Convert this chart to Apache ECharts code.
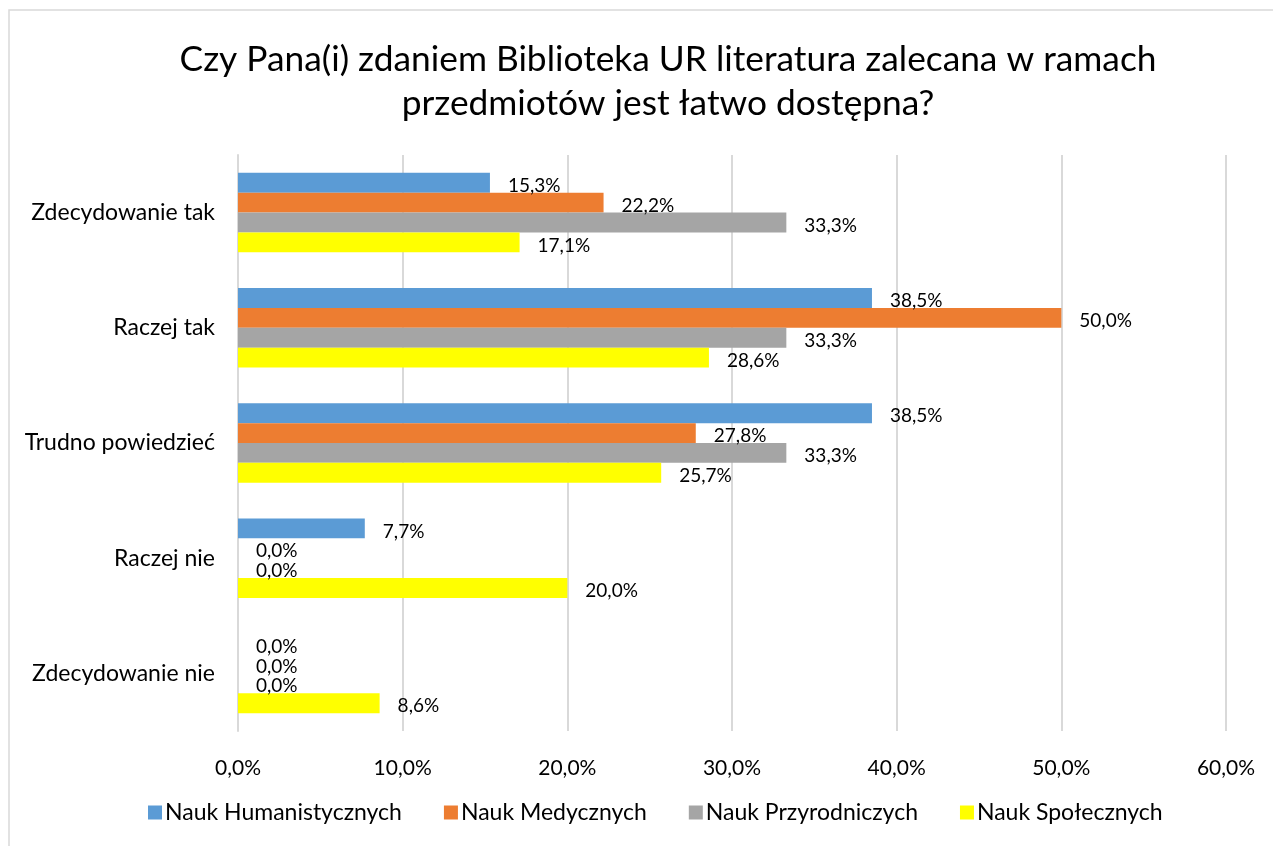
<!DOCTYPE html>
<html>
<head>
<meta charset="utf-8">
<script src="https://cdn.jsdelivr.net/npm/echarts@6/dist/echarts.min.js"></script>
<style>
  html, body { margin: 0; padding: 0; background: #fff; }
  #chart { width: 1273px; height: 846px; }
</style>
</head>
<body>
<div id="chart"></div>
<script>
var categories = ['Zdecydowanie tak', 'Raczej tak', 'Trudno powiedzieć', 'Raczej nie', 'Zdecydowanie nie'];
var seriesNames = ['Nauk Humanistycznych', 'Nauk Medycznych', 'Nauk Przyrodniczych', 'Nauk Społecznych'];
var humanistyczne = [15.3, 38.5, 38.5, 7.7, 0.0];
var medyczne = [22.2, 50.0, 27.8, 0.0, 0.0];
var przyrodnicze = [33.3, 33.3, 33.3, 0.0, 0.0];
var spoleczne = [17.1, 28.6, 25.7, 20.0, 8.6];
var colors = ['#5B9BD5', '#ED7D31', '#A5A5A5', '#FFFF00'];

var FONT = 'Lato';

function pct(v) {
  return v.toFixed(1).replace('.', ',') + '%';
}

var chart = echarts.init(document.getElementById('chart'), null, { renderer: 'canvas' });

var allData = [humanistyczne, medyczne, przyrodnicze, spoleczne];

var option = {
  color: colors,
  animation: false,
  textStyle: { fontFamily: FONT, color: '#000' },
  graphic: [{
    type: 'rect',
    shape: { x: 9, y: 10, width: 1400, height: 1000 },
    style: { fill: 'none', stroke: '#d9d9d9', lineWidth: 1.5 },
    silent: true
  }],
  title: {
    text: 'Czy Pana(i) zdaniem Biblioteka UR literatura zalecana w ramach\nprzedmiotów jest łatwo dostępna?',
    left: 663,
    textAlign: 'center',
    top: 33,
    textStyle: {
      fontFamily: FONT,
      fontSize: 35.3,
      fontWeight: 'normal',
      lineHeight: 44,
      color: '#000'
    }
  },
  legend: {
    bottom: 17,
    left: 143,
    itemWidth: 14,
    itemHeight: 14,
    itemGap: 42,
    icon: 'rect',
    textStyle: { fontFamily: FONT, fontSize: 23, color: '#000', padding: [0, 0, 0, -2] },
    data: seriesNames
  },
  grid: {
    left: 238,
    right: 47,
    top: 155,
    bottom: 115
  },
  xAxis: {
    type: 'value',
    min: 0,
    max: 60,
    interval: 10,
    axisLine: { show: false },
    axisTick: { show: false },
    splitLine: { lineStyle: { color: '#d9d9d9', width: 2 } },
    axisLabel: {
      fontFamily: FONT,
      fontSize: 21,
      color: '#000',
      margin: 27,
      formatter: function (v) { return pct(v); }
    }
  },
  yAxis: {
    type: 'category',
    inverse: true,
    data: categories,
    axisLine: { show: true, lineStyle: { color: '#d9d9d9', width: 2 } },
    axisTick: { show: false },
    axisLabel: {
      fontFamily: FONT,
      fontSize: 23,
      color: '#000',
      margin: 23
    }
  },
  series: seriesNames.map(function (name, i) {
    return {
      name: name,
      type: 'bar',
      data: allData[i],
      barGap: '0%',
      barCategoryGap: '31%',
      label: {
        show: true,
        position: 'right',
        distance: 18,
        offset: [0, 3],
        fontFamily: FONT,
        fontSize: 19,
        color: '#000',
        formatter: function (p) { return pct(p.value); }
      }
    };
  })
};

chart.setOption(option);
</script>
</body>
</html>
